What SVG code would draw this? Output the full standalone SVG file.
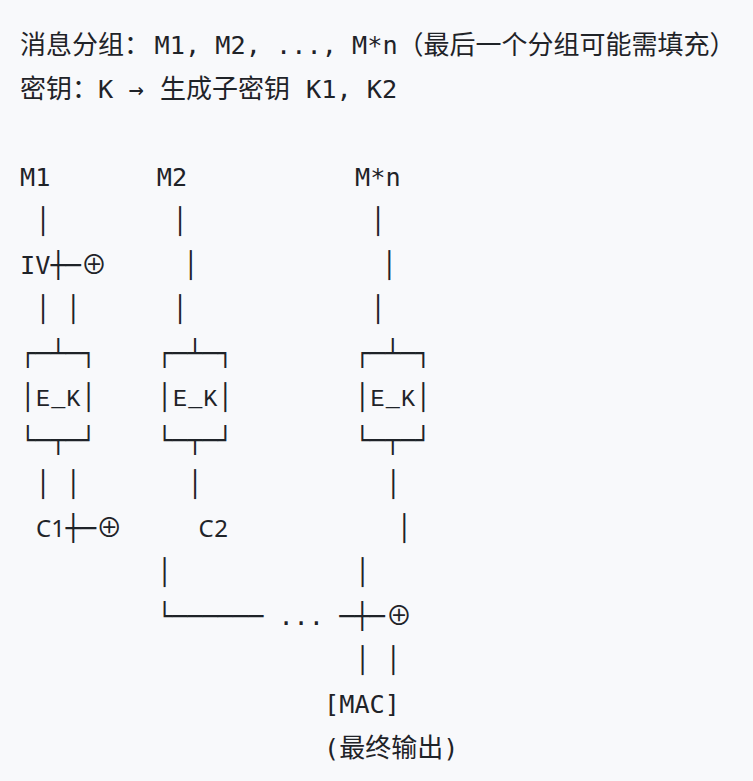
<svg xmlns="http://www.w3.org/2000/svg" width="753" height="781" viewBox="0 0 753 781">
<style>
.m{font-family:"DejaVu Sans Mono","Noto Sans CJK SC",monospace;font-size:25.25px;fill:#1f2328}
.c{font-family:"Noto Sans CJK SC","Noto Sans",sans-serif;font-size:26px;fill:#1f2328}
.l{font-family:"Noto Sans","Noto Sans CJK SC",sans-serif;font-size:24px;fill:#1f2328}
.k{font-family:"Liberation Mono","Noto Sans",monospace;font-size:23.5px;fill:#1f2328}
.mid{text-anchor:middle}
.o{font-family:"Noto Sans CJK SC","DejaVu Sans",sans-serif;font-size:26px;fill:#1f2328;text-anchor:middle}
</style>
<rect width="753" height="781" fill="#f8f9fb"/>
<g id="header">
<text y="54"><tspan class="c" x="20">消息分组：</tspan><tspan class="m" x="154.5">M1, M2, ..., M*n</tspan><tspan class="c" x="397.5">（最后一个分组可能需填充）</tspan></text>
<text y="98" xml:space="preserve"><tspan class="c" x="20">密钥：</tspan><tspan class="m" x="98">K → </tspan><tspan class="c" x="160">生成子密钥</tspan><tspan class="m" x="290.8"> K1, K2</tspan></text>
</g>
<g id="node-M1"><text class="m" x="20" y="186">M1</text></g>
<g id="node-M2"><text class="m" x="156.8" y="186">M2</text></g>
<g id="node-Mn"><text class="m" x="355" y="186">M*n</text></g>
<g id="node-IV"><text class="m" x="20" y="273.8">IV┼─</text><text class="o" x="94" y="273.8">⊕</text></g>
<g id="node-EK1">
<text class="m" x="20" y="361.6">┌─┴─┐</text>
<text class="m" x="20" y="405.5">│</text><text class="k mid" x="43 58.2 73.4" y="405.5">E_K</text><text class="m" x="80.8" y="405.5">│</text>
<text class="m" x="20" y="449.4">└─┬─┘</text>
</g>
<g id="node-EK2">
<text class="m" x="156.8" y="361.6">┌─┴─┐</text>
<text class="m" x="156.8" y="405.5">│</text><text class="k mid" x="180 195.2 210.4" y="405.5">E_K</text><text class="m" x="217.6" y="405.5">│</text>
<text class="m" x="156.8" y="449.4">└─┬─┘</text>
</g>
<g id="node-EK3">
<text class="m" x="354.6" y="361.6">┌─┴─┐</text>
<text class="m" x="354.6" y="405.5">│</text><text class="k mid" x="377.6 392.8 408" y="405.5">E_K</text><text class="m" x="415.4" y="405.5">│</text>
<text class="m" x="354.6" y="449.4">└─┬─┘</text>
</g>
<g id="node-C1"><text class="l mid" x="43.5 58" y="537.2">C1</text><text class="m" x="65.6" y="537.2">┼─</text><text class="o" x="109.3" y="537.2">⊕</text></g>
<g id="node-C2"><text class="l mid" x="206 221" y="537.2">C2</text></g>
<g id="node-MAC"><text class="m" x="324" y="712.8">[MAC]</text>
<text y="756.7"><tspan class="m" x="324">(</tspan><tspan class="c" x="339.2">最终输出</tspan><tspan class="m" x="443.2">)</tspan></text></g>
<g id="connectors" class="m">
<text class="m mid" x="42.8" y="229.9">│</text>
<text class="m mid" x="179.8" y="229.9">│</text>
<text class="m mid" x="377.8" y="229.9">│</text>
<text class="m mid" x="190.7" y="273.8">│</text>
<text class="m mid" x="389" y="273.8">│</text>
<text class="m mid" x="42.8" y="317.7">│</text>
<text class="m mid" x="73.2" y="317.7">│</text>
<text class="m mid" x="179.8" y="317.7">│</text>
<text class="m mid" x="377.8" y="317.7">│</text>
<text class="m mid" x="42.8" y="493.3">│</text>
<text class="m mid" x="73.2" y="493.3">│</text>
<text class="m mid" x="194.8" y="493.3">│</text>
<text class="m mid" x="393" y="493.3">│</text>
<text class="m mid" x="404" y="537.2">│</text>
<text class="m mid" x="164.4" y="581.1">│</text>
<text class="m mid" x="362.4" y="581.1">│</text>
<text class="m" x="156.8" y="625">└──────</text>
<text class="m" x="278.4" y="625">...</text>
<text class="m" x="339.2" y="625">─┼─</text>
<text class="o" x="399" y="625">⊕</text>
<text class="m mid" x="362.4" y="668.9">│</text>
<text class="m mid" x="393" y="668.9">│</text>
</g>
</svg>
